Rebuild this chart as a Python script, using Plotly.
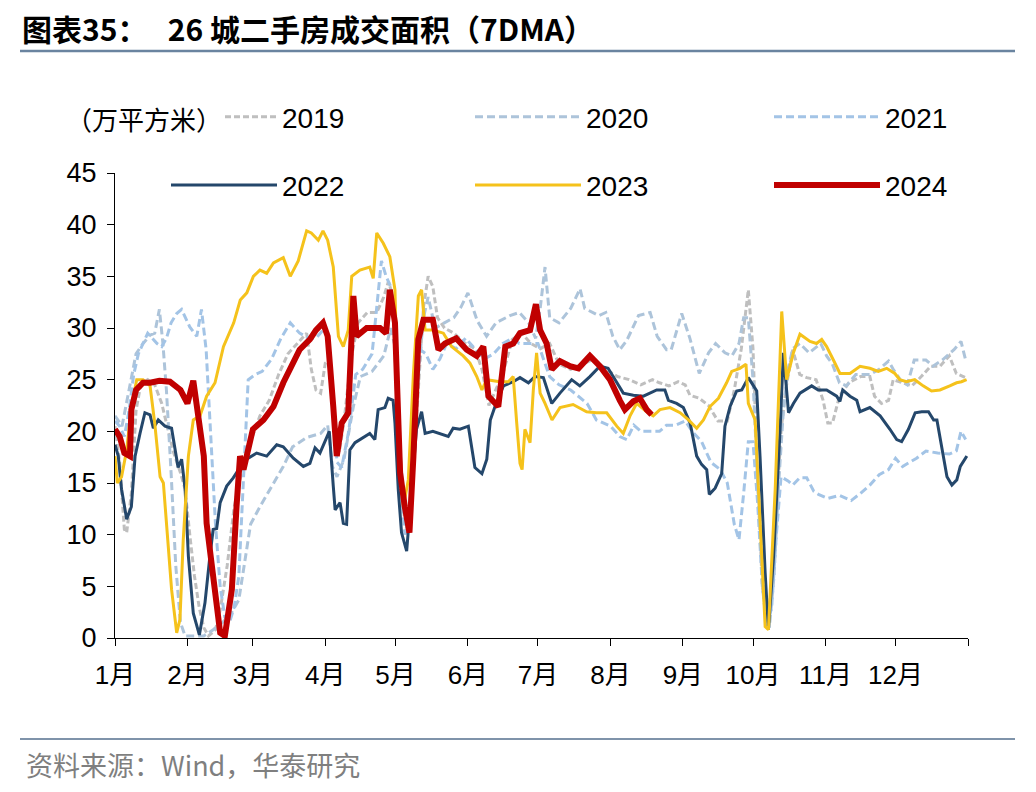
import plotly.graph_objects as go

# ---------------- data (day of year, value in 万平方米) ----------------
month_ticks = [0, 31, 59, 90, 120, 151, 181, 212, 243, 273, 304, 334, 365]
month_labels = ["1月", "2月", "3月", "4月", "5月", "6月", "7月", "8月", "9月", "10月", "11月", "12月", ""]

d2019_x = [0, 2, 4, 5, 7, 9, 11, 14, 17, 20, 22, 25, 28, 30, 32, 34, 36, 38, 40, 43, 45, 48, 51, 55, 58,
           62, 66, 70, 74, 78, 82, 84, 86, 88, 90, 92, 94, 96, 98, 101, 104, 108, 112, 115, 117, 119, 121,
           123, 125, 127, 130, 132, 134, 136, 138, 141, 145, 150, 154, 157, 160, 163, 166, 170, 174, 178,
           182, 186, 190, 195, 200, 205, 210, 215, 220, 225, 230, 233, 237, 241, 244, 246, 250, 254, 258,
           262, 265, 268, 271, 273, 275, 277, 279, 281, 283, 285, 287, 290, 293, 296, 300, 303, 305, 307,
           310, 314, 319, 323, 325, 328, 331, 333, 337, 341, 345, 349, 353, 357, 360, 364]
d2019_y = [20.5, 17, 10.5, 10.2, 14, 22, 24.5, 25, 24.5, 22.7, 20.8, 18, 16, 14.4, 10, 6, 3, 1, 0.2, 0.8,
           2.7, 7, 12.7, 16.9, 19, 21.5, 23, 25.5, 27.5, 28.5, 29.5, 26, 24, 23.7, 26.6, 27, 20, 18, 21, 27,
           30.5, 31.5, 31.5, 33, 34.5, 33, 20, 13, 10, 14, 25, 32, 35, 34, 31, 30, 29.5, 28.5, 28, 26, 22.5,
           24, 25.6, 28.9, 29.5, 28.5, 28, 28.5, 26.5, 26, 26.5, 27, 26, 25.3, 25, 24.5, 25, 24.7, 24.4,
           24.8, 24.5, 23.5, 23.2, 22.5, 21, 21, 24, 28, 33.7, 28, 15, 5, 1.5, 5, 12, 20, 24, 27.9, 25.5,
           25.2, 25, 23, 20.8, 20.8, 23.4, 24.7, 25.3, 25.3, 23.4, 22.7, 23, 25, 24.7, 24.4, 25.3, 26.3,
           26.3, 27.3, 25.6, 25.2]

d2020_x = [0, 3, 6, 9, 12, 15, 17, 19, 20.5, 22, 24, 26, 28, 30, 38, 42, 46, 50, 53, 56, 58, 62, 68, 72,
           76, 82, 88, 91, 93, 95, 98, 102, 105, 110, 115, 118, 120, 122, 124, 126, 128, 130, 132, 134, 137,
           141, 145, 148, 151, 155, 159, 163, 169, 173, 177, 180, 182, 184, 186, 190, 195, 199, 201, 207,
           210, 213, 216, 219, 224, 229, 232, 236, 238, 242.5, 246, 250, 254, 257, 261, 264, 267, 269, 271,
           273, 275, 278, 280, 282, 284, 286, 288, 290, 293, 297, 302, 304.5, 307, 310, 313, 317, 323, 327,
           331, 333, 336, 339, 342, 347, 350, 354, 359, 362, 364]
d2020_y = [21.5, 20.5, 24, 27.5, 28.5, 29.3, 29.5, 31.8, 28.5, 24, 16, 7, 1.5, 0.2, 0.2, 0.8, 1.5, 2.5, 3.7,
           8, 11, 12.7, 15, 16.6, 18.5, 19.4, 19.8, 20.6, 16.6, 15.6, 17.3, 22.4, 25.3, 25.8, 27.3, 30, 28,
           18, 12, 11, 18, 26, 31, 33, 30, 30.5, 31, 32, 33.4, 30.7, 29.2, 30.5, 31.2, 31.5, 30.5, 29, 32,
           35.9, 31, 30.5, 31.9, 33.8, 31.9, 31.2, 31.5, 29.2, 27.9, 28.8, 31.2, 31.5, 29.2, 27.9, 27.9,
           31.4, 29, 25.6, 27.6, 28.5, 27.6, 27.3, 28.5, 31, 31, 25, 15, 5, 1, 6, 15, 22, 26, 28, 28.5,
           27.6, 28.5, 27.3, 26.5, 24.7, 24.4, 25.5, 25.5, 26, 26.8, 26, 25, 24.5, 26.9, 26.9, 26.3, 26.9,
           27.9, 28.7, 26.9]

d2021_x = [0, 2, 4, 6, 8, 10, 12, 14, 16, 18, 20, 22, 24, 26.4, 28.5, 30, 32, 35, 37, 39, 41, 43, 45, 47,
           49, 51, 53, 55, 57, 60, 63, 67, 71, 75, 79, 83, 86, 89, 91, 93, 95, 97, 100, 103, 106, 110, 112,
           114, 116, 118, 120, 122, 124, 126, 128, 130, 133, 136, 139, 142, 146, 150, 154, 158, 162, 166,
           170, 173, 177, 181, 186, 190, 195, 202, 206, 212, 216, 219, 222, 225, 229, 233, 236, 240, 244,
           247, 251, 255, 259, 262, 265, 267, 269, 271, 273, 275, 277, 279, 281, 283, 285, 288, 290, 293,
           296, 299, 301, 305, 310, 315, 319, 323, 327, 331, 334, 337, 340, 343, 347, 352, 357, 360, 362, 364]
d2021_y = [21, 20.5, 19.5, 22, 25.5, 27.5, 28.5, 29.5, 29, 28.5, 28.2, 29, 30.5, 31.4, 31.8, 31, 30.1, 29.2,
           31.8, 27.9, 20, 11, 5, 2, 1.5, 3, 6, 16, 25, 25.5, 25.8, 27, 29, 30.5, 29.5, 29, 29, 29.8, 29.5,
           24, 17, 16.5, 20, 25.5, 26, 27.5, 32, 36.5, 35, 34, 30, 16, 10, 12, 20, 28, 27.5, 26, 27, 28.5,
           28, 29, 28, 27, 27.5, 28.5, 29, 28.5, 28.5, 28.5, 25.3, 24.5, 24, 22.7, 21.1, 20.5, 19.5, 19.2,
           20.6, 20, 20, 20, 20.6, 20.6, 21, 20, 19, 17, 16.3, 15, 11, 9.5, 14, 19, 19, 13, 5, 1, 3, 10,
           15.6, 15.2, 14.8, 15.5, 15.5, 14.2, 13.9, 13.5, 13.8, 13.3, 14, 14.8, 15.8, 16.3, 17.4, 16.6, 17,
           17.4, 18.1, 17.9, 17.8, 18.1, 20, 19.2]

d2022_x = [0, 1.4, 2.8, 5, 7, 8.6, 10.7, 12.8, 15, 16.4, 18.5, 21.4, 24.2, 26.4, 27, 28.5, 30, 31.4, 33.5,
           36.1, 38.5, 40.6, 42, 43.5, 45, 47.8, 50.6, 53.5, 56.3, 60.6, 64.9, 69.2, 72, 76.3, 80.6, 83.4,
           85.6, 87.7, 91.7, 93.4, 94.2, 96.3, 97.7, 99.1, 100.5, 102.7, 106.2, 109, 111.2, 112.6, 115.5,
           116.9, 119, 119.8, 121.2, 122.6, 124.8, 126.9, 129, 131.2, 132.7, 136, 140.5, 142.6, 144.7, 147.6,
           151.2, 152.6, 154, 157, 159.1, 160.6, 162.6, 166.2, 170.4, 173.3, 176.9, 179.7, 183.3, 186.9,
           190.4, 195.4, 198.9, 203.2, 207.5, 211, 214.6, 217.5, 221.8, 226.1, 231.8, 235.3, 236.8, 240.3,
           243.2, 246.1, 248.9, 251, 253.2, 254.3, 256.8, 259.6, 261, 263.2, 266, 268.2, 271, 274.6, 276,
           278.2, 279.6, 281.8, 284.6, 286, 288.2, 290.3, 293.1, 298.1, 300.9, 304.5, 308.8, 310.2, 311.4,
           314.5, 317.4, 318.8, 323, 327.4, 331.6, 334.5, 336.6, 339.5, 342.4, 345.2, 348.1, 350.3, 351.7,
           353.8, 356, 358.1, 360.2, 361.7, 364.5]
d2022_y = [18.7, 17.6, 14.4, 11.5, 12.7, 17.6, 19.8, 21.8, 21.6, 20.3, 21.1, 20.5, 20.3, 17.6, 16.5, 17.3,
           14.4, 7.9, 2.4, 0.3, 3.4, 7.9, 10.5, 10.6, 13.1, 14.7, 15.5, 16.5, 17.3, 17.9, 17.6, 18.7, 18.5,
           17.4, 16.6, 16.9, 18.4, 17.9, 20, 14.7, 12.4, 13.1, 11.1, 11, 18.2, 18.9, 19.4, 19.8, 19.2, 22.1,
           22.3, 23.2, 23, 20.8, 14.4, 10.2, 8.4, 14.4, 20.2, 21.9, 19.8, 20, 19.7, 19.5, 20.3, 20.2, 20.5,
           18.5, 16.5, 15.9, 17.3, 21.1, 22.4, 24.4, 24.8, 25.2, 24.7, 25.3, 25.2, 22.7, 23.7, 25, 24.4,
           25.3, 26.3, 26.1, 24.7, 23.7, 23.5, 23.4, 24, 24, 23, 22.7, 22.3, 20.8, 17.6, 16.8, 16.3, 13.9,
           14.5, 15.9, 20.5, 22.4, 23.9, 24, 25.2, 23.9, 17.6, 6.3, 0.8, 7.9, 20.2, 27.6, 21.8, 22.7, 23.7,
           24.4, 24, 24, 23.4, 22.9, 24, 23.4, 23, 21.9, 22.3, 21.5, 20.2, 19.2, 19, 20.2, 21.8, 21.9, 21.9,
           21.1, 21.1, 18.2, 15.6, 14.8, 15.3, 16.6, 17.6]

d2023_x = [0, 1, 2.8, 5, 7, 9.3, 12, 15, 17, 19.3, 20.7, 22, 24.2, 26.4, 27.8, 29.2, 31.4, 33.5, 36.4, 39.2,
           42.8, 46.4, 50.8, 53.6, 56.4, 59.2, 62, 64.9, 67.8, 72, 75, 78.4, 82, 84, 87, 89, 91, 93.4, 95.6,
           97.7, 99.8, 101.3, 104.8, 109, 110.5, 112, 114.8, 117.6, 119.8, 121.2, 123.4, 125.5, 127.7, 129.8,
           131.2, 132.7, 136, 140.5, 144, 149, 151.9, 154.8, 157, 159, 164.7, 168.3, 170.4, 171.9, 173.3,
           174.2, 175.4, 177.6, 179, 180.4, 181.9, 184, 187, 190.4, 196, 201.8, 206, 210.4, 214.7, 217.5,
           220.4, 223.2, 227.5, 230.3, 233.2, 237.5, 241.8, 245.4, 248.9, 251.8, 254.6, 258.2, 261.7, 263.9,
           267.4, 270, 271, 273.9, 276, 278.2, 279.6, 282.5, 285.3, 287.4, 290.3, 293.1, 297.4, 300.2, 302.4,
           304.5, 307.4, 310.2, 314.5, 318.8, 323, 326.6, 330.2, 333.7, 335.8, 338.7, 342.2, 345.8, 349.4,
           353, 357.2, 360.1, 362.2, 364.4]
d2023_y = [17.6, 15, 15.6, 18.2, 22.4, 25, 25, 24.4, 20.8, 15.6, 15, 11.1, 4.7, 0.5, 1.8, 9.5, 17.6, 21.1,
           21.5, 23.4, 24.7, 28.2, 30.5, 32.7, 33.4, 35, 35.6, 35.3, 36.3, 36.8, 35, 36.5, 39.4, 39.2, 38.5,
           39.4, 38.5, 35.9, 29.2, 28.2, 29.8, 35, 35.6, 35.9, 34.8, 39.2, 38.2, 36.9, 33.7, 20.8, 12.7,
           15.3, 25.6, 33.1, 33.7, 29.8, 29.8, 29.5, 28.2, 27.3, 26.6, 25.3, 24, 25, 24.8, 24.8, 25.3, 20.8,
           16.9, 16.3, 20.2, 18.9, 24, 27.6, 23.7, 22.7, 21.1, 22.3, 22.6, 21.9, 21.8, 21.8, 20.5, 19.8,
           21.5, 22.7, 21.9, 21.5, 22.1, 22.3, 21.8, 21.1, 20.3, 21.1, 22.4, 23.2, 24.7, 25.8, 26.1, 26.5,
           22.7, 21.1, 11.1, 1.1, 0.8, 14.4, 31.6, 25, 27.6, 29.4, 28.7, 28.5, 28.9, 28.2, 26.9, 25.6, 25.6,
           26.3, 26.1, 25.8, 26.1, 25.6, 25, 24.8, 25, 24.4, 23.9, 24, 24.4, 24.7, 24.8, 25]

d2024_x = [0, 2, 4, 6.4, 7, 9, 12, 15, 19, 23.5, 28, 31, 33.5, 35, 38, 39.2, 42, 45, 47, 50, 52, 53.5, 55,
           59, 63.5, 67.8, 72, 75, 79, 83.4, 86, 89, 91, 93.4, 94.9, 97, 99.8, 102, 103.4, 107.7, 113.4, 116,
           117.6, 119.8, 122, 124, 126, 127.7, 129.8, 132, 136, 138.4, 141.2, 146, 150.5, 154.8, 157.6,
           159.8, 164, 167, 170.4, 173.3, 177.6, 180.1, 181.9, 184.7, 186.9, 190.4, 194.7, 198.3, 203.2,
           207.5, 211.8, 216, 218.2, 221.8, 224.6, 227.5, 229.6]
d2024_y = [20.2, 19.5, 17.9, 17.6, 22.1, 24, 24.7, 24.7, 24.9, 24.8, 24, 22.7, 24.9, 22.4, 17.6, 11.1, 6.3,
           0.5, 0.2, 4.7, 12.7, 17.6, 16.3, 20.2, 21.1, 22.4, 24.7, 26, 27.9, 28.9, 29.8, 30.5, 29.2, 22.4,
           17.6, 20.8, 21.8, 33.1, 29.2, 30, 30, 29.5, 33.7, 30.5, 16, 12.7, 10.2, 17.6, 28.9, 30.8, 30.8,
           27.9, 28.5, 29, 27.9, 27.3, 28.2, 23.4, 22.4, 28.2, 28.5, 29.5, 29.8, 32.3, 29.8, 28.5, 26, 26.8,
           26.3, 26.1, 27.3, 26.3, 25, 23, 22.1, 22.9, 23.2, 22.1, 21.6]

# ---------------- figure ----------------
# The page adds an 8px body margin, so the figure is 8px smaller and every
# reference pixel position is shifted by OFF.
OFF = 8
W, H = 1036 - OFF, 792 - OFF
L, R, T, B = 115 - OFF, 968 - OFF, 173 - OFF, 638 - OFF
pw, ph = R - L, B - T


def px_x(x):
    return (x - OFF - L) / pw


def px_y(y):
    return (B - (y - OFF)) / ph


series = [
    ("2019", d2019_x, d2019_y, "#bfbfbf", 3, "6px,3px", "legend"),
    ("2020", d2020_x, d2020_y, "#adc4da", 3, "8px,4px", "legend2"),
    ("2021", d2021_x, d2021_y, "#a3c4e6", 3, "8px,4px", "legend3"),
    ("2022", d2022_x, d2022_y, "#24476b", 3, "solid", "legend"),
    ("2023", d2023_x, d2023_y, "#f5c21b", 3, "solid", "legend2"),
    ("2024", d2024_x, d2024_y, "#c00000", 6, "solid", "legend3"),
]

fig = go.Figure()
for name, xs, ys, col, w, dash, lg in series:
    fig.add_trace(go.Scatter(
        x=xs, y=ys, mode="lines", name=name, legendgroup=name, legend=lg,
        line=dict(color=col, width=w, dash=dash), hoverinfo="skip",
    ))

font_main = "Liberation Sans, Arial, Noto Sans CJK SC, sans-serif"
leg_common = dict(
    orientation="v", xanchor="left", yanchor="top", bgcolor="rgba(0,0,0,0)",
    font=dict(family=font_main, size=28, color="#000000"),
    itemwidth=106, tracegroupgap=29, itemclick=False,
)

fig.update_layout(
    width=W, height=H,
    margin=dict(l=L, r=W - R, t=T, b=H - B, pad=0),
    paper_bgcolor="white", plot_bgcolor="white",
    showlegend=True,
    legend=dict(x=px_x(166), y=px_y(92), **leg_common),
    legend2=dict(x=px_x(470), y=px_y(92), **leg_common),
    legend3=dict(x=px_x(769), y=px_y(92), **leg_common),
    title=dict(
        text="<b>图表35：   26 城二手房成交面积（7DMA）</b>",
        x=(22 - OFF) / W, xref="container", xanchor="left",
        y=1 - (30 - OFF) / H, yref="container", yanchor="middle",
        font=dict(family="Noto Sans CJK SC, Liberation Sans, sans-serif", size=30, color="#000000"),
    ),
    xaxis=dict(
        range=[0, 365], tickmode="array", tickvals=month_ticks, ticktext=month_labels,
        showline=True, linecolor="#000000", linewidth=1.3, ticks="outside", ticklen=7,
        tickcolor="#000000", tickwidth=1.3, showgrid=False, zeroline=False,
        tickfont=dict(family="Liberation Sans, Noto Sans CJK SC, sans-serif", size=26, color="#000000"),
        ticklabelstandoff=7, fixedrange=True,
    ),
    yaxis=dict(
        range=[0, 45], tickmode="linear", tick0=0, dtick=5,
        showline=True, linecolor="#000000", linewidth=1.3, ticks="outside", ticklen=7,
        tickcolor="#000000", tickwidth=1.3, showgrid=False, zeroline=False,
        tickfont=dict(family=font_main, size=27, color="#000000"),
        ticklabelstandoff=5, fixedrange=True,
    ),
    annotations=[
        dict(text="（万平方米）", xref="paper", yref="paper", x=px_x(64), y=px_y(118),
             xanchor="left", yanchor="middle", showarrow=False, bgcolor="white",
             font=dict(family="Noto Sans CJK SC, sans-serif", size=26, color="#000000")),
        dict(text="资料来源：Wind，华泰研究", xref="paper", yref="paper", x=px_x(24), y=px_y(764),
             xanchor="left", yanchor="middle", showarrow=False,
             font=dict(family="Noto Sans CJK SC, Liberation Sans, sans-serif", size=27, color="#7f7f7f")),
    ],
    shapes=[
        dict(type="line", xref="paper", yref="paper", x0=px_x(20), x1=px_x(1015),
             y0=px_y(51), y1=px_y(51), line=dict(color="#6a84a0", width=2.5)),
        dict(type="line", xref="paper", yref="paper", x0=px_x(20), x1=px_x(1015),
             y0=px_y(739), y1=px_y(739), line=dict(color="#7f93aa", width=2)),
    ],
)

fig.write_html("out.html")
